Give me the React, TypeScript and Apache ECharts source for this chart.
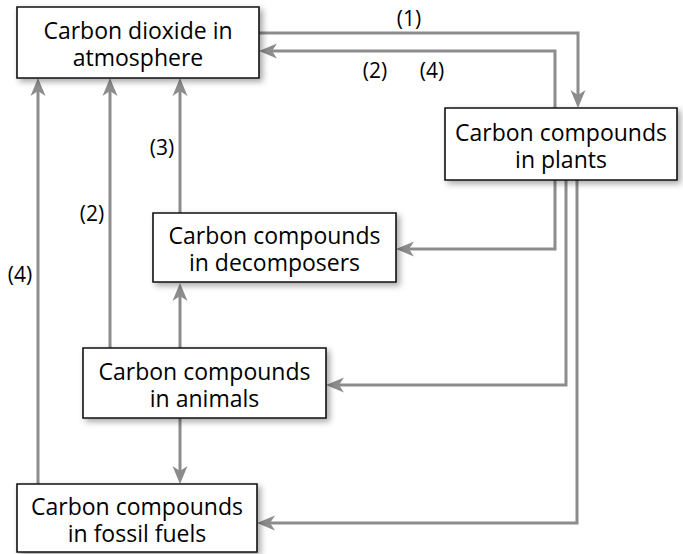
import React, { useEffect, useRef } from "react";
import * as echarts from "echarts";

// Node labels (two lines each)
const nodeLabels: string[][] = [
  ["Carbon dioxide in", "atmosphere"],
  ["Carbon compounds", "in plants"],
  ["Carbon compounds", "in decomposers"],
  ["Carbon compounds", "in animals"],
  ["Carbon compounds", "in fossil fuels"],
];

// Flow labels
const flowLabels: string[] = ["(1)", "(2)", "(4)", "(3)", "(2)", "(4)"];

// Layout (positions in px)
const boxes = [
  { x: 17, y: 7, w: 242, h: 71 },
  { x: 445, y: 108, w: 232, h: 72 },
  { x: 153, y: 213, w: 243, h: 69 },
  { x: 83, y: 348, w: 243, h: 70 },
  { x: 17, y: 484, w: 240, h: 68 },
];

const labelPos = [
  [409, 18],
  [375, 70],
  [432, 70],
  [162, 147],
  [92, 213],
  [20, 274],
];

type Pt = [number, number];
interface Flow {
  pts: Pt[];
  startArrow?: boolean;
  endArrow?: boolean;
}

const flows: Flow[] = [
  { pts: [[259, 33], [578, 33], [578, 108]], endArrow: true },
  { pts: [[259, 51], [555, 51], [555, 249], [396, 249]], startArrow: true, endArrow: true },
  { pts: [[566, 180], [566, 385], [326, 385]], endArrow: true },
  { pts: [[577, 180], [577, 523], [257, 523]], endArrow: true },
  { pts: [[38, 484], [38, 78]], endArrow: true },
  { pts: [[110, 348], [110, 78]], endArrow: true },
  { pts: [[180, 213], [180, 78]], endArrow: true },
  { pts: [[180, 348], [180, 283]], endArrow: true },
  { pts: [[180, 418], [180, 484]], endArrow: true },
];

const LINE = "#8c8c8c";
const FONT = "'Open Sans', sans-serif";
const AL = 18; // arrow length
const AW = 7.5; // arrow half width
const NOTCH = 5;
const LINE_GAP = 27;

function arrowHead(tip: Pt, from: Pt) {
  const dx = tip[0] - from[0];
  const dy = tip[1] - from[1];
  const len = Math.hypot(dx, dy) || 1;
  const ux = dx / len, uy = dy / len;
  const nx = -uy, ny = ux;
  const bx = tip[0] - ux * AL, by = tip[1] - uy * AL;
  return {
    type: "polygon",
    z: 5,
    shape: {
      points: [
        tip,
        [bx + nx * AW, by + ny * AW],
        [tip[0] - ux * (AL - NOTCH), tip[1] - uy * (AL - NOTCH)],
        [bx - nx * AW, by - ny * AW],
      ],
    },
    style: { fill: LINE },
  };
}

function shorten(p: Pt, toward: Pt, d: number): Pt {
  const dx = toward[0] - p[0];
  const dy = toward[1] - p[1];
  const len = Math.hypot(dx, dy) || 1;
  return [p[0] + (dx / len) * d, p[1] + (dy / len) * d];
}

export default function App() {
  const ref = useRef<HTMLDivElement>(null);
  useEffect(() => {
    if (!ref.current) return;
    const chart = echarts.init(ref.current, undefined, { renderer: "svg" });
    const elements: any[] = [];
    flows.forEach((f) => {
      const pts = f.pts.map((p) => [p[0], p[1]] as Pt);
      const n = pts.length;
      if (f.startArrow) pts[0] = shorten(pts[0], pts[1], AL - NOTCH - 1);
      if (f.endArrow) pts[n - 1] = shorten(pts[n - 1], pts[n - 2], AL - NOTCH - 1);
      elements.push({
        type: "polyline",
        z: 1,
        shape: { points: pts },
        style: { stroke: LINE, lineWidth: 3, fill: null, lineJoin: "miter" },
      });
      if (f.startArrow) elements.push(arrowHead(f.pts[0], f.pts[1]));
      if (f.endArrow) elements.push(arrowHead(f.pts[n - 1], f.pts[n - 2]));
    });
    boxes.forEach((b, i) => {
      elements.push({
        type: "rect",
        z: 10,
        shape: { x: b.x, y: b.y, width: b.w, height: b.h },
        style: {
          fill: "#ffffff",
          stroke: "#111111",
          lineWidth: 1.6,
          shadowBlur: 6,
          shadowOffsetX: 3,
          shadowOffsetY: 3,
          shadowColor: "rgba(0,0,0,0.35)",
        },
      });
      const lines = nodeLabels[i];
      const cy = b.y + b.h / 2 + 1;
      lines.forEach((ln, k) => {
        elements.push({
          type: "text",
          z: 11,
          x: b.x + b.w / 2,
          y: cy + (k - (lines.length - 1) / 2) * LINE_GAP,
          style: {
            text: ln,
            fill: "#000",
            fontSize: 23,
            fontFamily: FONT,
            lineHeight: 25,
            align: "center",
            verticalAlign: "middle",
          },
        });
      });
    });
    flowLabels.forEach((t, i) => {
      elements.push({
        type: "text",
        z: 12,
        x: labelPos[i][0],
        y: labelPos[i][1],
        style: {
          text: t,
          fill: "#000",
          fontSize: 21,
          fontFamily: FONT,
          align: "center",
          verticalAlign: "middle",
        },
      });
    });
    chart.setOption({
      animation: false,
      backgroundColor: "#ffffff",
      graphic: { elements },
    });
    return () => chart.dispose();
  }, []);
  return (
    <div
      ref={ref}
      style={{ position: "fixed", left: 0, top: 0, width: 683, height: 554 }}
    />
  );
}
